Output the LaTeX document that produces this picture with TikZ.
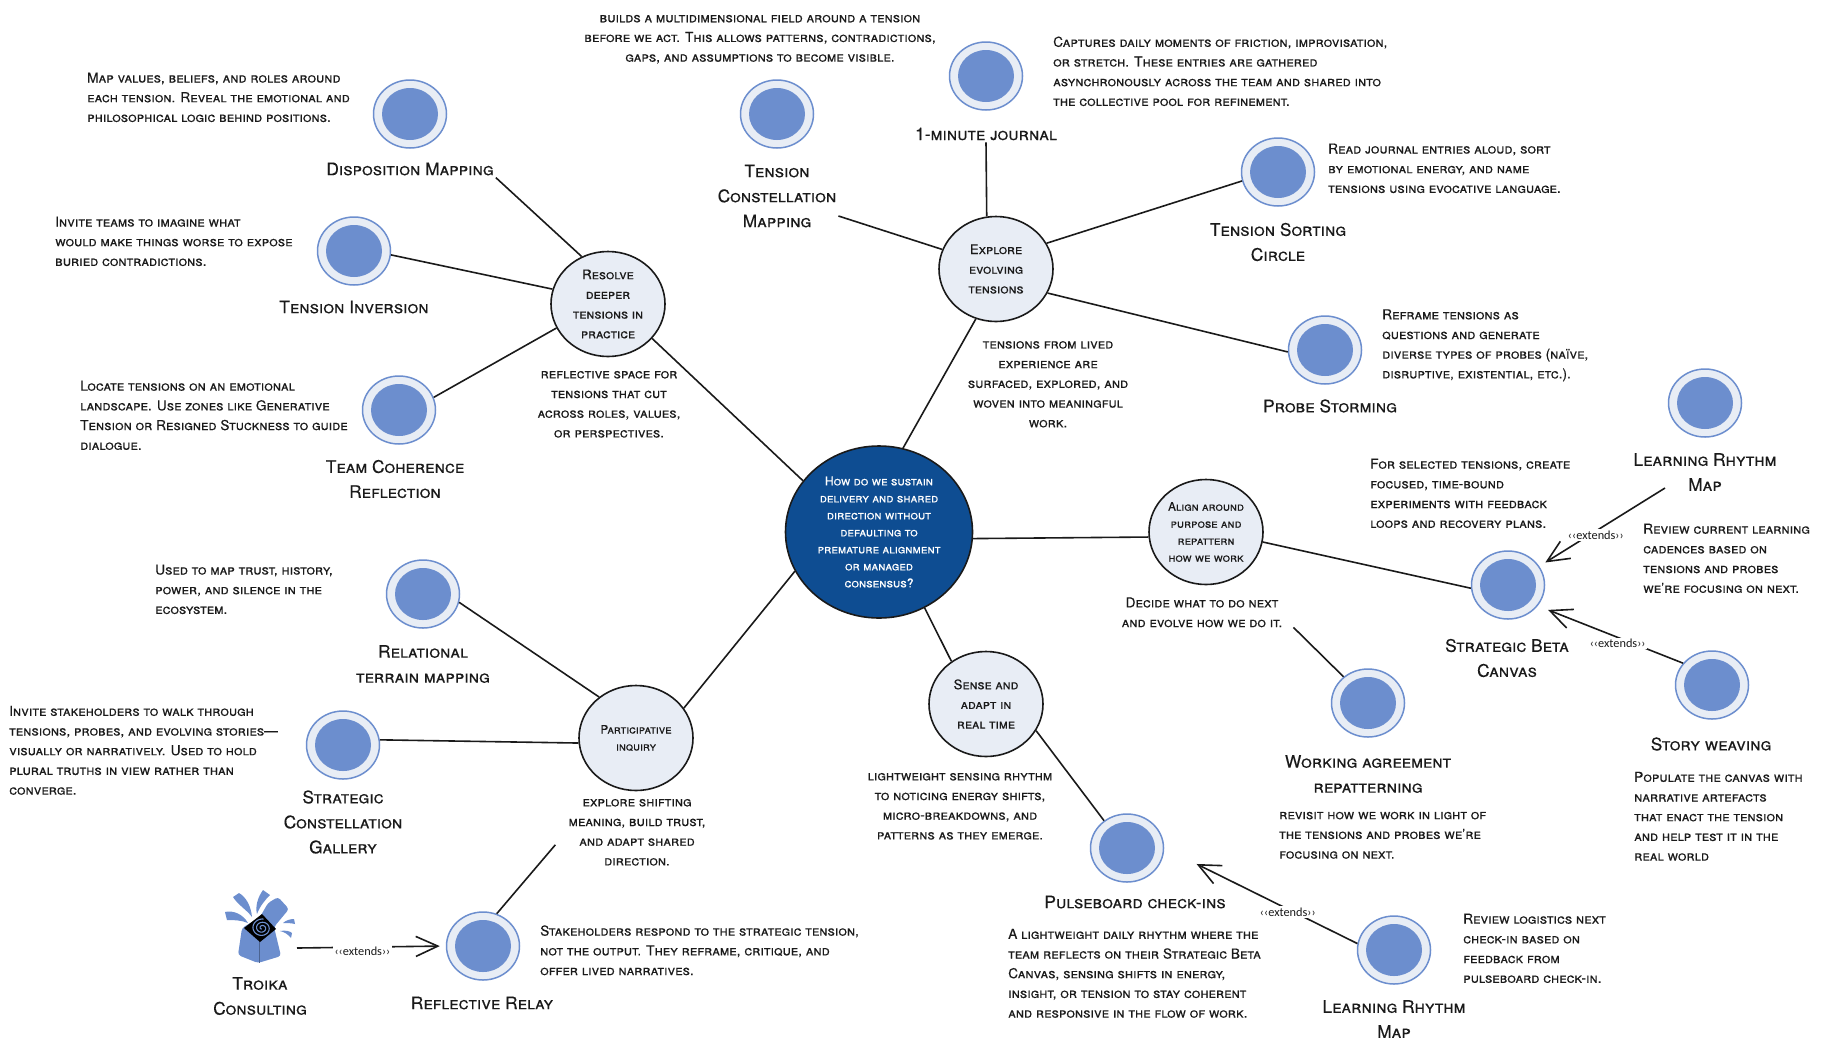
\documentclass[tikz,border=0pt]{standalone}
\usepackage{fontspec}
\setmainfont{TeX Gyre Heros}[FakeBold=0.35]
\newfontfamily\tagfont{Carlito}
\usepackage{xcolor}
\definecolor{hubblue}{RGB}{14,77,146}
\definecolor{hubpale}{RGB}{232,237,245}
\definecolor{toolblue}{RGB}{108,142,206}
\definecolor{inkblack}{RGB}{26,26,26}
\usetikzlibrary{arrows.meta,shapes.geometric,calc}

\begin{document}
\begin{tikzpicture}[x=1pt, y=-1pt,
        link/.style={line width=1.6pt, draw=inkblack},
        extarr/.style={-{Straight Barb[length=22pt, width=20pt, line width=1.6pt]}, line width=1.6pt, draw=inkblack},
        rootnode/.style={ellipse, draw=inkblack, line width=1.6pt, fill=hubblue, text=white, inner sep=0pt,
                         minimum width=187pt, minimum height=172pt, align=center,
                         font=\fontsize{12.1}{17}\selectfont\scshape},
        hubnode/.style={ellipse, draw=inkblack, line width=1.6pt, fill=hubpale, text=inkblack, inner sep=0pt,
                        minimum width=114pt, minimum height=105pt, align=center,
                        font=\fontsize{13.2}{19.7}\selectfont\scshape},
        toolnode/.style={ellipse, draw=toolblue, line width=1.5pt, fill=hubpale,
                         minimum width=73pt, minimum height=68pt, inner sep=0pt, path picture={
                           \fill[toolblue] (path picture bounding box.center) ellipse (28pt and 26pt);}},
        titlelbl/.style={align=center, text=inkblack, inner sep=2pt, yshift=1pt, font=\fontsize{17.3}{25}\selectfont\scshape},
        desc/.style={align=left, anchor=west, text=inkblack, inner sep=0pt, yshift=0.7pt, font=\fontsize{13.7}{19.7}\selectfont\scshape},
        descmid/.style={align=center, text=inkblack, inner sep=0pt, yshift=0.7pt, font=\fontsize{13.7}{19.7}\selectfont\scshape},
        exttag/.style={fill=white, inner sep=1.5pt, yshift=-4pt, text=inkblack, font=\fontsize{12.3}{12}\tagfont}
      ]
        \useasboundingbox (0,0) rectangle (1825,1053);

        % Root and hubs
        \node[rootnode] (root) at (879,532) {How do we sustain\\delivery and shared\\direction without\\defaulting to\\premature alignment\\or managed\\consensus?};
        \node[hubnode] (explore) at (996,269) {Explore\\evolving\\tensions};
        \node[hubnode] (resolve) at (608,304) {Resolve\\deeper\\tensions in\\practice};
        \node[hubnode, font=\fontsize{11.6}{17}\selectfont\scshape] (inquiry) at (636,738) {Participative\\inquiry};
        \node[hubnode] (sense)   at (986,704) {Sense and\\adapt in\\real time};
        \node[hubnode, font=\fontsize{11.8}{17}\selectfont\scshape] (align) at (1206,532) {Align around\\purpose and\\repattern\\how we work};

        % Tools
        \node[toolnode] (disp)   at (410,114) {};
        \node[toolnode] (tcm)    at (777,114) {};
        \node[toolnode] (jrnl)   at (986,76)  {};
        \node[toolnode] (sort)   at (1278,172) {};
        \node[toolnode] (probe)  at (1325,350) {};
        \node[toolnode] (invert) at (354,251) {};
        \node[toolnode] (cohere) at (399,410) {};
        \node[toolnode] (terr)   at (423,594) {};
        \node[toolnode] (galler) at (343,745) {};
        \node[toolnode] (relay)  at (483,946) {};
        \node[toolnode] (agree)  at (1368,703) {};
        \node[toolnode] (pulse)  at (1127,848) {};
        \node[toolnode] (lrlow)  at (1394,950) {};
        \node[toolnode] (beta)   at (1508,585) {};
        \node[toolnode] (story)  at (1712,685) {};
        \node[toolnode] (lrtop)  at (1705,403) {};

        % Tool titles
        \node[titlelbl] (disptl)   at (410,170) {Disposition Mapping};
        \node[titlelbl] (tcmtl)    at (777,197) {Tension\\Constellation\\Mapping};
        \node[titlelbl] (jrnltl)   at (986,135) {1-minute journal};
        \node[titlelbl] (sorttl)   at (1278,243) {Tension Sorting\\Circle};
        \node[titlelbl] (probetl)  at (1330,407) {Probe Storming};
        \node[titlelbl] (inverttl) at (354,308) {Tension Inversion};
        \node[titlelbl] (coheretl) at (395,480) {Team Coherence\\Reflection};
        \node[titlelbl] (terrtl)   at (423,665) {Relational\\terrain mapping};
        \node[titlelbl] (gallertl) at (343,823) {Strategic\\Constellation\\Gallery};
        \node[titlelbl] (relaytl)  at (482,1004) {Reflective Relay};
        \node[titlelbl] (troikatl) at (260,997) {Troika\\Consulting};
        \node[titlelbl] (agreetl)  at (1368,775) {Working agreement\\repatterning};
        \node[titlelbl] (pulsetl)  at (1135,903) {Pulseboard check-ins};
        \node[titlelbl] (lrlowtl)  at (1394,1020) {Learning Rhythm\\Map};
        \node[titlelbl] (betatl)   at (1507,659) {Strategic Beta\\Canvas};
        \node[titlelbl] (storytl)  at (1711,745) {Story weaving};
        \node[titlelbl] (lrtoptl)  at (1705,473) {Learning Rhythm\\Map};

        % Descriptions
        \node[descmid] (tcmtx) at (760,40) {builds a multidimensional field around a tension\\before we act. This allows patterns, contradictions,\\gaps, and assumptions to become visible.};
        \node[desc] (disptx) at (87,98) {Map values, beliefs, and roles around\\each tension. Reveal the emotional and\\philosophical logic behind positions.};
        \node[desc] (jrnltx) at (1053,72) {Captures daily moments of friction, improvisation,\\or stretch. These entries are gathered\\asynchronously across the team and shared into\\the collective pool for refinement.};
        \node[desc] (sorttx) at (1328,169) {Read journal entries aloud, sort\\by emotional energy, and name\\tensions using evocative language.};
        \node[desc] (inverttx) at (55,242) {Invite teams to imagine what\\would make things worse to expose\\buried contradictions.};
        \node[desc] (probetx) at (1382,346) {Reframe tensions as\\questions and generate\\diverse types of probes (naïve,\\disruptive, existential, etc.).};
        \node[desc] (coheretx) at (80,416) {Locate tensions on an emotional\\landscape. Use zones like Generative\\Tension or Resigned Stuckness to guide\\dialogue.};
        \node[descmid] (resolvetx) at (609,405) {reflective space for\\tensions that cut\\across roles, values,\\or perspectives.};
        \node[descmid] (exploretx) at (1048,385) {tensions from lived\\experience are\\surfaced, explored, and\\woven into meaningful\\work.};
        \node[desc] (betatx) at (1370,494) {For selected tensions, create\\focused, time-bound\\experiments with feedback\\loops and recovery plans.};
        \node[desc] (lrtoptx) at (1643,559) {Review current learning\\cadences based on\\tensions and probes\\we're focusing on next.};
        \node[desc] (terrtx) at (155,590) {Used to map trust, history,\\power, and silence in the\\ecosystem.};
        \node[descmid] (aligntx) at (1202,613) {Decide what to do next\\and evolve how we do it.};
        \node[desc] (gallertx) at (9,751) {Invite stakeholders to walk through\\tensions, probes, and evolving stories---\\visually or narratively. Used to hold\\plural truths in view rather than\\converge.};
        \node[descmid] (inquirytx) at (637,833) {explore shifting\\meaning, build trust,\\and adapt shared\\direction.};
        \node[descmid] (sensetx) at (960,807) {lightweight sensing rhythm\\to noticing energy shifts,\\micro-breakdowns, and\\patterns as they emerge.};
        \node[desc] (agreetx) at (1279,836) {revisit how we work in light of\\the tensions and probes we're\\focusing on next.};
        \node[desc] (storytx) at (1634,817) {Populate the canvas with\\narrative artefacts\\that enact the tension\\and help test it in the\\real world};
        \node[desc] (relaytx) at (540,951) {Stakeholders respond to the strategic tension,\\not the output. They reframe, critique, and\\offer lived narratives.};
        \node[desc] (pulsetx) at (1008,974) {A lightweight daily rhythm where the\\team reflects on their Strategic Beta\\Canvas, sensing shifts in energy,\\insight, or tension to stay coherent\\and responsive in the flow of work.};
        \node[desc] (lrlowtx) at (1463,949) {Review logistics next\\check-in based on\\feedback from\\pulseboard check-in.};

        % Root spokes
        \draw[link] (root.146) -- (resolve.-38);
        \draw[link] (root.74)  -- (explore.-112);
        \draw[link] (root.205) -- (inquiry.32);
        \draw[link] (root.-59) -- (sense.129);
        \draw[link] (root.-4)  -- (align.185);

        % Hub spokes
        \draw[link] (disptl.south east) -- (resolve.119);
        \draw[link] (invert.-6) -- (resolve.165);
        \draw[link] (cohere.20) -- (resolve.205);
        \draw[link] ([yshift=-20pt]tcmtl.east) -- (explore.160);
        \draw[link] (jrnltl.south) -- (explore.100);
        \draw[link] (sort.194) -- (explore.27);
        \draw[link] (probe.183) -- (explore.-25);
        \draw[link] (terr.-13) -- (inquiry.132);
        \draw[link] (galler.8) -- (inquiry.185);
        \draw[link] ([xshift=-13pt, yshift=21pt]inquirytx.south west) -- (relay.67);
        \draw[link] (sense.-28) -- (pulse.130);
        \draw[link] (align.-10) -- (beta.185);
        \draw[link] ([xshift=11pt]aligntx.south east) -- (agree.133);

        % Extends arrows
        \coordinate (troikaout) at (297,948);
        \draw[extarr, shorten >=6pt] (troikaout) -- (relay.180) node[exttag, pos=0.44] (tagrelay) {‹‹extends››};
        \draw[extarr, shorten >=7pt] ([xshift=-40pt, yshift=5pt]lrtoptl.south) -- (beta.31) node[exttag, pos=0.55] (tagtop) {‹‹extends››};
        \draw[extarr, shorten >=11pt] (story.143) -- (beta.-35) node[exttag, pos=0.45, yshift=-2pt] (tagstory) {‹‹extends››};
        \draw[extarr, shorten >=36pt] (lrlow.170) -- (pulse.0) node[exttag, pos=0.36, yshift=1pt] (tagpulse) {‹‹extends››};

        % Troika icon
        \fill[toolblue, rounded corners=3pt] (242,928) -- (238,955) -- (258,963) -- (281,956) -- (274,927) -- (289,909) -- (278,897) -- (268,903) -- (260,917) -- cycle;
        \draw[toolblue!70!black, line width=0.5pt] (259,940) -- (259,963);
        \fill[toolblue] (233,897) -- (239,893) .. controls (246,897) and (251,906) .. (252,917) .. controls (247,910) and (238,905) .. (233,897) -- cycle;
        \fill[toolblue] (263,890) -- (270,895) .. controls (265,900) and (260,906) .. (257,914) .. controls (255,906) and (258,897) .. (263,890) -- cycle;
        \fill[toolblue] (225,912) .. controls (233,910) and (243,914) .. (248,923) .. controls (241,920) and (233,920) .. (227,920) -- cycle;
        \fill[toolblue] (283,923) .. controls (286,920) and (291,919) .. (294,919) -- (295,924) .. controls (291,923) and (287,923) .. (283,923) -- cycle;
        \fill[toolblue] (280,931) .. controls (285,930) and (290,931) .. (292,933) -- (291,938) .. controls (288,934) and (284,932) .. (280,931) -- cycle;
        \fill[black] (244,928) -- (262,914) -- (276,929) -- (260,942) -- cycle;
        \draw[toolblue, line width=1.1pt, domain=100:1000, samples=80, smooth, variable=\t]
          plot ({262+\t/100*cos(\t)}, {928+\t/110*sin(\t)});
      \end{tikzpicture}
\end{document}
